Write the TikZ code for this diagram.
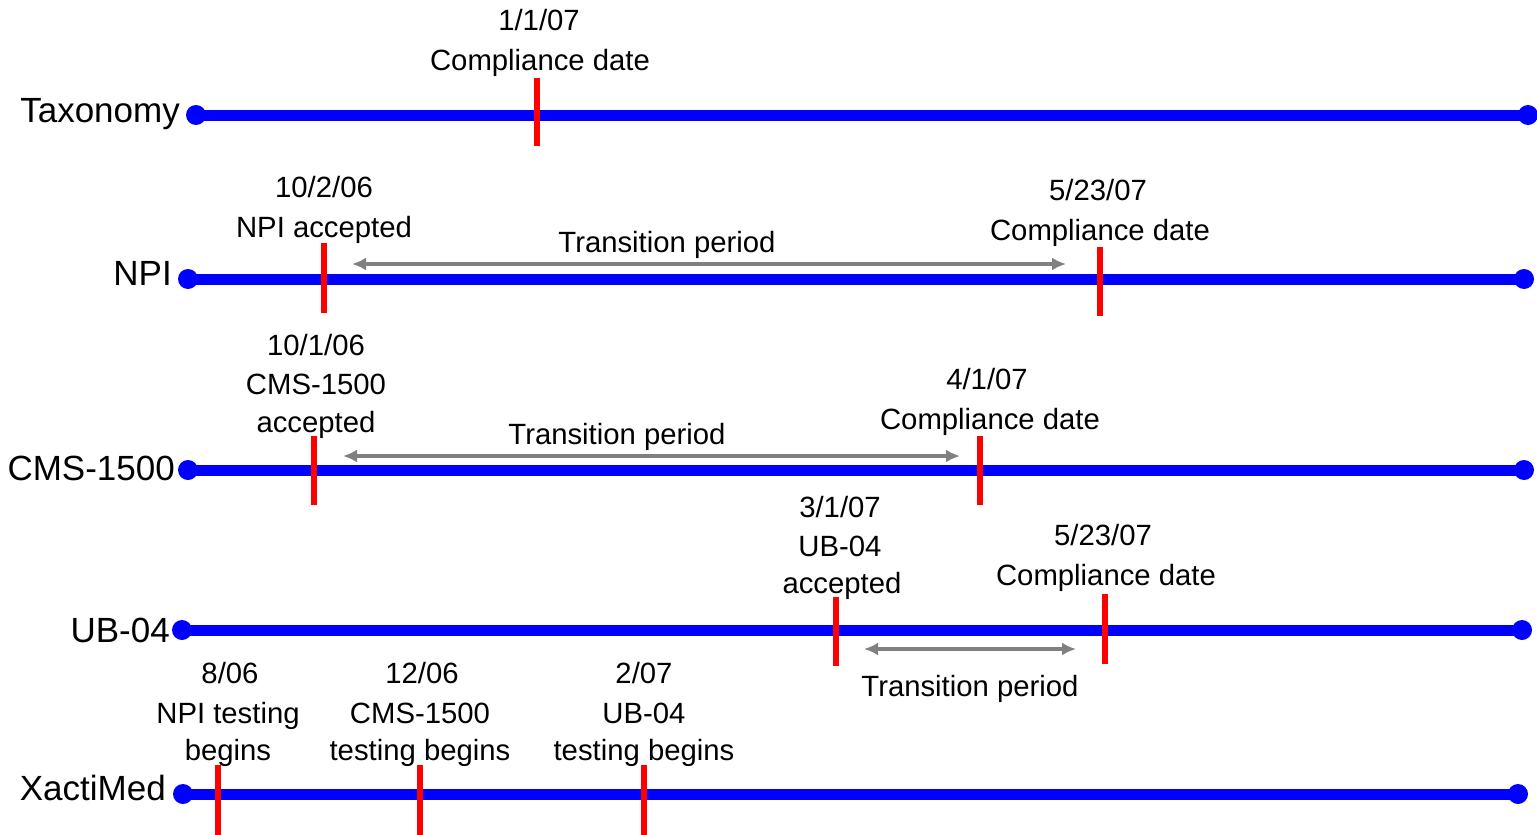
\documentclass[tikz,border=0pt]{standalone}
\usepackage{fontspec}
\setmainfont{Liberation Sans}
\usetikzlibrary{arrows.meta}
\definecolor{tlblue}{HTML}{0000FF}
\definecolor{tlred}{HTML}{FF0000}
\definecolor{tlgray}{HTML}{808080}
\begin{document}
\begin{tikzpicture}[x=1pt,y=-1pt,
  timeline/.style={draw=tlblue,line width=11pt},
  enddot/.style={circle,fill=tlblue,inner sep=0pt,minimum size=20pt},
  tick/.style={draw=tlred,line width=6pt},
  span/.style={draw=tlgray,line width=3.5pt,{Latex[length=14pt,width=13pt]}-{Latex[length=14pt,width=13pt]}},
  lbl/.style={anchor=base,inner sep=0pt,font=\fontsize{29.3}{35}\selectfont},
  rowlbl/.style={anchor=base east,inner sep=0pt,font=\fontsize{35}{42}\selectfont}]
\useasboundingbox (0,0) rectangle (1537,835);

% ---------- Taxonomy ----------
\node[rowlbl] (taxl) at (180,122) {Taxonomy};
\node[enddot] (taxa) at (196,115) {};
\node[enddot] (taxb) at (1528,115) {};
\draw[timeline] (taxa.center) -- (taxb.center);
\coordinate (taxt1) at (537,78); \coordinate (taxt2) at (537,146);
\draw[tick] (taxt1) -- (taxt2);
\node[lbl] (tax1) at (539,30) {1/1/07};
\node[lbl] (tax2) at (540,70) {Compliance date};

% ---------- NPI ----------
\node[rowlbl] (npil) at (172,285) {NPI};
\node[enddot] (npia) at (188,279) {};
\node[enddot] (npib) at (1524,279) {};
\draw[timeline] (npia.center) -- (npib.center);
\coordinate (npit1) at (324,243); \coordinate (npit2) at (324,313);
\draw[tick] (npit1) -- (npit2);
\coordinate (npit3) at (1100,247); \coordinate (npit4) at (1100,316);
\draw[tick] (npit3) -- (npit4);
\node[lbl] (npi1) at (324,197) {10/2/06};
\node[lbl] (npi2) at (324,237) {NPI accepted};
\node[lbl] (npi3) at (1098,200) {5/23/07};
\node[lbl] (npi4) at (1100,240) {Compliance date};
\coordinate (npis1) at (352,264); \coordinate (npis2) at (1066,264);
\draw[span] (npis1) -- (npis2);
\node[lbl] (npi5) at (667,252) {Transition period};

% ---------- CMS-1500 ----------
\node[rowlbl] (cmsl) at (175,480) {CMS-1500};
\node[enddot] (cmsa) at (188,470) {};
\node[enddot] (cmsb) at (1524,470) {};
\draw[timeline] (cmsa.center) -- (cmsb.center);
\coordinate (cmst1) at (314,436); \coordinate (cmst2) at (314,505);
\draw[tick] (cmst1) -- (cmst2);
\coordinate (cmst3) at (980,436); \coordinate (cmst4) at (980,505);
\draw[tick] (cmst3) -- (cmst4);
\node[lbl] (cms1) at (316,355) {10/1/06};
\node[lbl] (cms2) at (316,394) {CMS-1500};
\node[lbl] (cms3) at (316,432) {accepted};
\node[lbl] (cms4) at (987,389) {4/1/07};
\node[lbl] (cms5) at (990,429) {Compliance date};
\coordinate (cmss1) at (343,456); \coordinate (cmss2) at (960,456);
\draw[span] (cmss1) -- (cmss2);
\node[lbl] (cms6) at (617,444) {Transition period};

% ---------- UB-04 ----------
\node[rowlbl] (ubl) at (170,642) {UB-04};
\node[enddot] (uba) at (182,630) {};
\node[enddot] (ubb) at (1522,630) {};
\draw[timeline] (uba.center) -- (ubb.center);
\coordinate (ubt1) at (836,597); \coordinate (ubt2) at (836,666);
\draw[tick] (ubt1) -- (ubt2);
\coordinate (ubt3) at (1105,594); \coordinate (ubt4) at (1105,664);
\draw[tick] (ubt3) -- (ubt4);
\node[lbl] (ub1) at (840,517) {3/1/07};
\node[lbl] (ub2) at (840,556) {UB-04};
\node[lbl] (ub3) at (842,593) {accepted};
\node[lbl] (ub4) at (1103,545) {5/23/07};
\node[lbl] (ub5) at (1106,585) {Compliance date};
\coordinate (ubs1) at (864,649); \coordinate (ubs2) at (1076,649);
\draw[span] (ubs1) -- (ubs2);
\node[lbl] (ub6) at (970,696) {Transition period};

% ---------- XactiMed ----------
\node[rowlbl] (xml) at (166,800) {XactiMed};
\node[enddot] (xma) at (183,794) {};
\node[enddot] (xmb) at (1518,794) {};
\draw[timeline] (xma.center) -- (xmb.center);
\coordinate (xmt1) at (218,765); \coordinate (xmt2) at (218,835);
\draw[tick] (xmt1) -- (xmt2);
\coordinate (xmt3) at (420,765); \coordinate (xmt4) at (420,835);
\draw[tick] (xmt3) -- (xmt4);
\coordinate (xmt5) at (644,765); \coordinate (xmt6) at (644,835);
\draw[tick] (xmt5) -- (xmt6);
\node[lbl] (xm1) at (230,683) {8/06};
\node[lbl] (xm2) at (228,723) {NPI testing};
\node[lbl] (xm3) at (228,760) {begins};
\node[lbl] (xm4) at (422,683) {12/06};
\node[lbl] (xm5) at (420,723) {CMS-1500};
\node[lbl] (xm6) at (420,760) {testing begins};
\node[lbl] (xm7) at (644,683) {2/07};
\node[lbl] (xm8) at (644,723) {UB-04};
\node[lbl] (xm9) at (644,760) {testing begins};
\end{tikzpicture}
\end{document}
